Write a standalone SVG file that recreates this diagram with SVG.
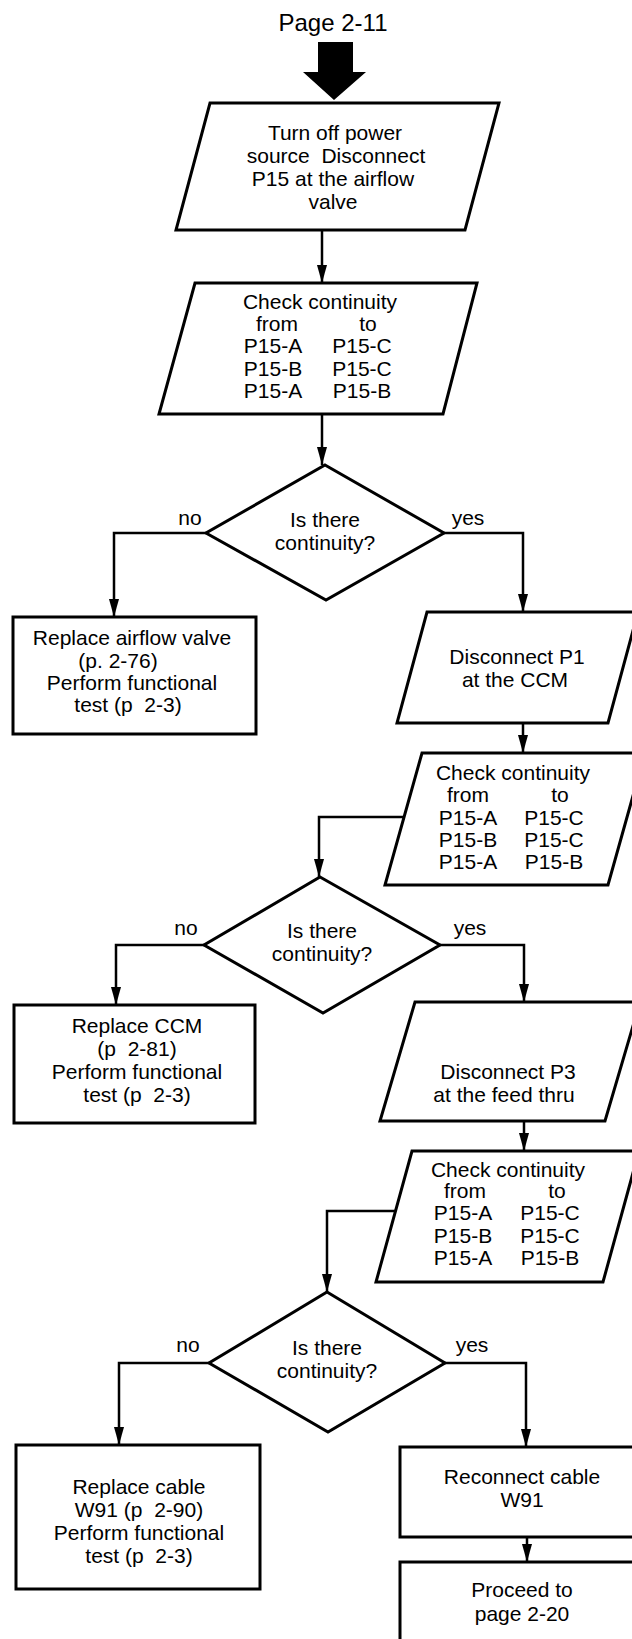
<svg xmlns="http://www.w3.org/2000/svg" width="632" height="1639" viewBox="0 0 632 1639">
<defs>
<marker id="ah" markerWidth="18" markerHeight="10" refX="18" refY="5" orient="auto" markerUnits="userSpaceOnUse" viewBox="0 0 18 10">
<path d="M0,0 L18,5 L0,10 Z" fill="#000"/>
</marker>
<style>
.box{fill:#fff;stroke:#000;stroke-width:3;stroke-linejoin:miter}
.arr{fill:none;stroke:#000;stroke-width:2.5;marker-end:url(#ah)}
text{font-family:"Liberation Sans",Arial,sans-serif;font-size:21px;fill:#000;text-anchor:middle}
.ttl{font-size:24px}
</style>
</defs>
<rect width="632" height="1639" fill="#fff"/>
<g id="title">
<text class="ttl" x="333" y="31">Page 2-11</text>
<polygon points="318,42 353,42 353,72 366,72 334,100 303,72 318,72" fill="#000"/>
</g>
<g id="connectors">
<path class="arr" d="M322,230 V283"/>
<path class="arr" d="M322,414 V465"/>
<path class="arr" d="M206,533 H114 V617"/>
<path class="arr" d="M444,533 H523 V612"/>
<path class="arr" d="M523,723 V753"/>
<path class="arr" d="M404,817 H319 V877"/>
<path class="arr" d="M204,945 H116 V1005"/>
<path class="arr" d="M440,945 H524 V1002"/>
<path class="arr" d="M524,1121 V1151"/>
<path class="arr" d="M395,1211 H327 V1292"/>
<path class="arr" d="M209,1363 H119 V1445"/>
<path class="arr" d="M445,1363 H526 V1447"/>
<path class="arr" d="M527,1537 V1562"/>
</g>
<g id="n1">
<polygon class="box" points="210,103 499,103 465,230 176,230"/>
<text x="335" y="140">Turn off power</text>
<text x="336" y="163" xml:space="preserve">source  Disconnect</text>
<text x="333" y="186">P15 at the airflow</text>
<text x="333" y="209">valve</text>
</g>
<g id="n2">
<polygon class="box" points="195,283 477,283 443,414 159,414"/>
<text x="320" y="309">Check continuity</text>
<text x="277" y="331">from</text><text x="368" y="331">to</text>
<text x="273" y="353">P15-A</text><text x="362" y="353">P15-C</text>
<text x="273" y="376">P15-B</text><text x="362" y="376">P15-C</text>
<text x="273" y="398">P15-A</text><text x="362" y="398">P15-B</text>
</g>
<g id="d1">
<polygon class="box" points="325,465 444,533 326,600 206,533"/>
<text x="325" y="527">Is there</text>
<text x="325" y="550">continuity?</text>
<text x="190" y="525">no</text>
<text x="468" y="525">yes</text>
</g>
<g id="n3">
<rect class="box" x="13" y="617" width="243" height="117"/>
<text x="132" y="645">Replace airflow valve</text>
<text x="118" y="668">(p. 2-76)</text>
<text x="132" y="690">Perform functional</text>
<text x="128" y="712" xml:space="preserve">test (p  2-3)</text>
</g>
<g id="n4">
<polygon class="box" points="427,612 638,612 608,723 397,723"/>
<text x="517" y="664">Disconnect P1</text>
<text x="515" y="687">at the CCM</text>
</g>
<g id="n5">
<polygon class="box" points="422,753 645,753 608,885 385,885"/>
<text x="513" y="780">Check continuity</text>
<text x="468" y="802">from</text><text x="560" y="802">to</text>
<text x="468" y="825">P15-A</text><text x="554" y="825">P15-C</text>
<text x="468" y="847">P15-B</text><text x="554" y="847">P15-C</text>
<text x="468" y="869">P15-A</text><text x="554" y="869">P15-B</text>
</g>
<g id="d2">
<polygon class="box" points="320,877 440,945 323,1013 204,945"/>
<text x="322" y="938">Is there</text>
<text x="322" y="961">continuity?</text>
<text x="186" y="935">no</text>
<text x="470" y="935">yes</text>
</g>
<g id="n6">
<rect class="box" x="14" y="1005" width="241" height="118"/>
<text x="137" y="1033">Replace CCM</text>
<text x="137" y="1056" xml:space="preserve">(p  2-81)</text>
<text x="137" y="1079">Perform functional</text>
<text x="137" y="1102" xml:space="preserve">test (p  2-3)</text>
</g>
<g id="n7">
<polygon class="box" points="415,1002 640,1002 605,1121 380,1121"/>
<text x="508" y="1079">Disconnect P3</text>
<text x="504" y="1102">at the feed thru</text>
</g>
<g id="n8">
<polygon class="box" points="412,1151 639,1151 603,1282 376,1282"/>
<text x="508" y="1177">Check continuity</text>
<text x="465" y="1198">from</text><text x="557" y="1198">to</text>
<text x="463" y="1220">P15-A</text><text x="550" y="1220">P15-C</text>
<text x="463" y="1243">P15-B</text><text x="550" y="1243">P15-C</text>
<text x="463" y="1265">P15-A</text><text x="550" y="1265">P15-B</text>
</g>
<g id="d3">
<polygon class="box" points="327,1292 445,1363 328,1432 209,1363"/>
<text x="327" y="1355">Is there</text>
<text x="327" y="1378">continuity?</text>
<text x="188" y="1352">no</text>
<text x="472" y="1352">yes</text>
</g>
<g id="n9">
<rect class="box" x="16" y="1445" width="244" height="144"/>
<text x="139" y="1494">Replace cable</text>
<text x="139" y="1517" xml:space="preserve">W91 (p  2-90)</text>
<text x="139" y="1540">Perform functional</text>
<text x="139" y="1563" xml:space="preserve">test (p  2-3)</text>
</g>
<g id="n10">
<rect class="box" x="400" y="1447" width="240" height="90"/>
<text x="522" y="1484">Reconnect cable</text>
<text x="522" y="1507">W91</text>
</g>
<g id="n11">
<rect class="box" x="400" y="1562" width="240" height="100"/>
<text x="522" y="1597">Proceed to</text>
<text x="522" y="1621">page 2-20</text>
</g>
</svg>
